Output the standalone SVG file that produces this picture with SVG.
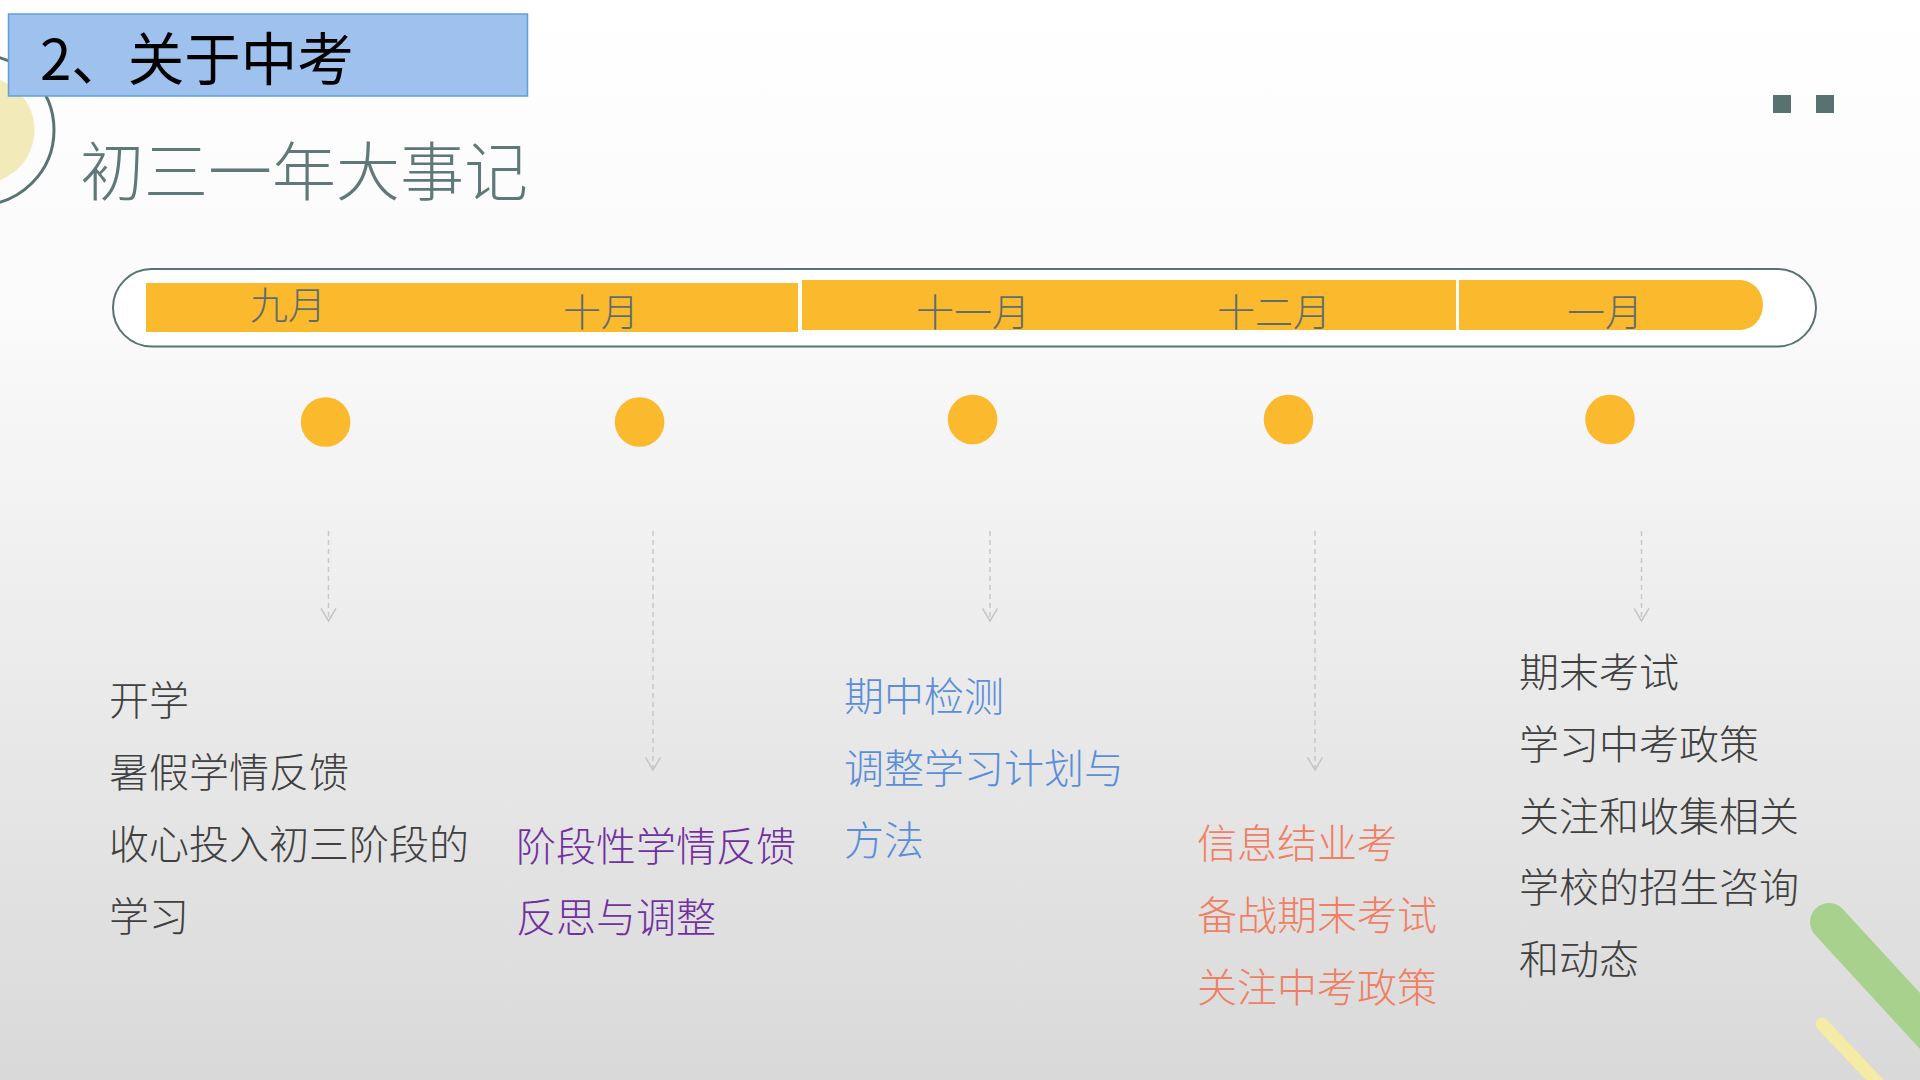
<svg xmlns="http://www.w3.org/2000/svg" width="1920" height="1080" viewBox="0 0 1920 1080">
  <defs>
    <linearGradient id="bg" x1="0" y1="0" x2="0" y2="1">
      <stop offset="0" stop-color="#FFFFFF"/>
      <stop offset="0.3" stop-color="#FAFAFA"/>
      <stop offset="1" stop-color="#D9D9D9"/>
    </linearGradient>
    <marker id="chev" markerUnits="userSpaceOnUse" markerWidth="20" markerHeight="20" viewBox="-15 -10 20 20" refX="0" refY="0" orient="auto">
      <path d="M-12.7,-7.5 L0,0 L-12.7,7.5" fill="none" stroke="#C4C4C4" stroke-width="1.5"/>
    </marker>
    <style>
      .cjk { font-family: "Noto Sans CJK SC", "Noto Sans", sans-serif; }
      .month { font-size: 38px; fill: #5E6E6E; text-anchor: middle; font-weight: 300; }
      .body { font-size: 40px; font-weight: 300; }
      .gray { fill: #404040; }
      .purple { fill: #7030A0; }
      .blue { fill: #5B8ED8; }
      .orange { fill: #F07F63; }
      .dot { fill: #FBBA2D; }
      .bar { fill: #FBBA2D; }
      .conn { stroke: #C8C8C8; stroke-width: 1.5; stroke-dasharray: 5 4; fill: none; }
    </style>
  </defs>

  <rect x="0" y="0" width="1920" height="1080" fill="url(#bg)"/>

  <!-- decorative left circle -->
  <g id="deco-left">
    <circle cx="-19" cy="130" r="53.5" fill="#F3EABA"/>
    <circle cx="-21" cy="130" r="75" fill="none" stroke="#5A7272" stroke-width="3"/>
  </g>

  <!-- header -->
  <g id="header">
    <rect x="8.5" y="14" width="519" height="82" fill="#9FC1EE" stroke="#5BA3D6" stroke-width="1.5"/>
    <text x="40" y="80" class="cjk" font-size="56.5" fill="#000000">2、关于中考</text>
  </g>

  <g id="title">
    <text x="80" y="195" class="cjk" font-size="64" font-weight="300" fill="#5F7878">初三一年大事记</text>
  </g>

  <!-- top-right squares -->
  <g id="deco-squares" fill="#587272">
    <rect x="1773" y="95" width="18" height="18"/>
    <rect x="1816" y="95" width="18" height="18"/>
  </g>

  <!-- timeline -->
  <g id="timeline">
    <rect x="113" y="269" width="1703" height="77.5" rx="38.75" ry="38.75" fill="#FFFFFF" stroke="#5A7272" stroke-width="2"/>
    <rect class="bar" x="146" y="283" width="652" height="49"/>
    <rect class="bar" x="802" y="280" width="654" height="50"/>
    <path class="bar" d="M1459,280 H1740 A23,25 0 0 1 1740,330 H1459 Z"/>
  </g>

  <!-- connectors -->
  <g id="connectors">
    <line class="conn" x1="328.5" y1="531" x2="328.5" y2="621" marker-end="url(#chev)"/>
    <line class="conn" x1="653" y1="531" x2="653" y2="770" marker-end="url(#chev)"/>
    <line class="conn" x1="990" y1="531" x2="990" y2="621" marker-end="url(#chev)"/>
    <line class="conn" x1="1315" y1="531" x2="1315" y2="770" marker-end="url(#chev)"/>
    <line class="conn" x1="1641.5" y1="531" x2="1641.5" y2="621" marker-end="url(#chev)"/>
  </g>

  <!-- nodes -->
  <g id="node-sep">
    <text class="cjk month" x="288" y="319">九月</text>
    <circle class="dot" cx="325.6" cy="422" r="24.8"/>
    <text class="cjk body gray">
      <tspan x="109" y="715">开学</tspan>
      <tspan x="109" y="787">暑假学情反馈</tspan>
      <tspan x="109" y="859">收心投入初三阶段的</tspan>
      <tspan x="109" y="931">学习</tspan>
    </text>
  </g>

  <g id="node-oct">
    <text class="cjk month" x="601" y="326">十月</text>
    <circle class="dot" cx="639.6" cy="422" r="24.8"/>
    <text class="cjk body purple" font-weight="400">
      <tspan x="516" y="861">阶段性学情反馈</tspan>
      <tspan x="516" y="932">反思与调整</tspan>
    </text>
  </g>

  <g id="node-nov">
    <text class="cjk month" x="973" y="326">十一月</text>
    <circle class="dot" cx="972.6" cy="419.5" r="24.8"/>
    <text class="cjk body blue">
      <tspan x="844" y="711">期中检测</tspan>
      <tspan x="844" y="783">调整学习计划与</tspan>
      <tspan x="844" y="855">方法</tspan>
    </text>
  </g>

  <g id="node-dec">
    <text class="cjk month" x="1274" y="326">十二月</text>
    <circle class="dot" cx="1288.5" cy="419.5" r="24.8"/>
    <text class="cjk body orange">
      <tspan x="1197" y="858">信息结业考</tspan>
      <tspan x="1197" y="930">备战期末考试</tspan>
      <tspan x="1197" y="1002">关注中考政策</tspan>
    </text>
  </g>

  <g id="node-jan">
    <text class="cjk month" x="1605" y="326">一月</text>
    <circle class="dot" cx="1610" cy="419.5" r="24.8"/>
    <text class="cjk body gray">
      <tspan x="1519" y="687">期末考试</tspan>
      <tspan x="1519" y="759">学习中考政策</tspan>
      <tspan x="1519" y="831">关注和收集相关</tspan>
      <tspan x="1519" y="902">学校的招生咨询</tspan>
      <tspan x="1519" y="974">和动态</tspan>
    </text>
  </g>

  <!-- bottom-right decorative strokes -->
  <g id="deco-right">
    <line x1="1829" y1="922" x2="1999" y2="1107" stroke="#A9D18E" stroke-width="38" stroke-linecap="round"/>
    <line x1="1822" y1="1024" x2="1890" y2="1096" stroke="#F3EBA6" stroke-width="13" stroke-linecap="round"/>
  </g>
</svg>
